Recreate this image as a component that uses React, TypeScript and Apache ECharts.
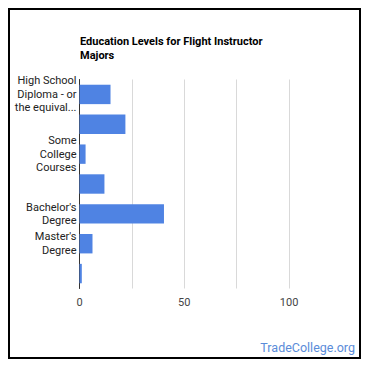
import React, { useEffect, useRef } from "react";
import * as echarts from "echarts";

const titleText = "Education Levels for Flight Instructor\nMajors";
const categories = [
  "High School\nDiploma - or\nthe equival...",
  "",
  "Some\nCollege\nCourses",
  "",
  "Bachelor's\nDegree",
  "Master's\nDegree",
  "",
];
const values = [14.8, 21.9, 2.9, 11.9, 40.3, 6.2, 1.1];
const xTicks = [0, 50, 100];
const watermark = "TradeCollege.org";

export default function App() {
  const ref = useRef<HTMLDivElement>(null);
  useEffect(() => {
    if (!ref.current) return;
    const chart = echarts.init(ref.current, undefined, { renderer: "svg" });
    chart.setOption({
      animation: false,
      backgroundColor: "#fff",
      title: {
        text: titleText,
        left: 70,
        top: 24,
        padding: 0,
        textStyle: {
          fontFamily: "Roboto",
          fontSize: 11,
          fontWeight: "bold",
          color: "#000",
          lineHeight: 14,
        },
      },
      grid: { left: 69.5, top: 69.5, width: 262, height: 209, containLabel: false },
      xAxis: {
        type: "value",
        min: 0,
        max: 125,
        interval: 25,
        axisLine: { show: false },
        axisTick: { show: false },
        axisLabel: {
          margin: 8,
          fontFamily: "Roboto",
          fontSize: 11,
          color: "#444",
          formatter: (v: number) => (xTicks.includes(v) ? String(v) : ""),
        },
        splitLine: {
          show: true,
          showMaxLine: false,
          lineStyle: { color: "#d9d9d9", width: 1 },
        },
      },
      yAxis: {
        type: "category",
        inverse: true,
        data: categories,
        axisLine: { show: true, lineStyle: { color: "#333", width: 1 } },
        axisTick: { show: false },
        axisLabel: {
          margin: 3,
          fontFamily: "Roboto",
          fontSize: 11,
          color: "#222",
          lineHeight: 13.5,
          interval: 0,
          align: "right",
        },
      },
      series: [
        {
          type: "bar",
          data: values,
          barWidth: "65%",
          itemStyle: { color: "#4f83e3" },
        },
      ],
      graphic: [
        {
          type: "text",
          x: 345,
          y: 337,
          style: {
            text: watermark,
            fontFamily: "Roboto",
            fontSize: 12.5,
            fill: "#5a8cd9",
            align: "right",
            verticalAlign: "middle",
          },
        },
      ],
    });
    return () => chart.dispose();
  }, []);
  return (
    <div style={{ width: 349, height: 347, border: "2px solid #000" }}>
      <div ref={ref} style={{ width: 349, height: 347 }} />
    </div>
  );
}
